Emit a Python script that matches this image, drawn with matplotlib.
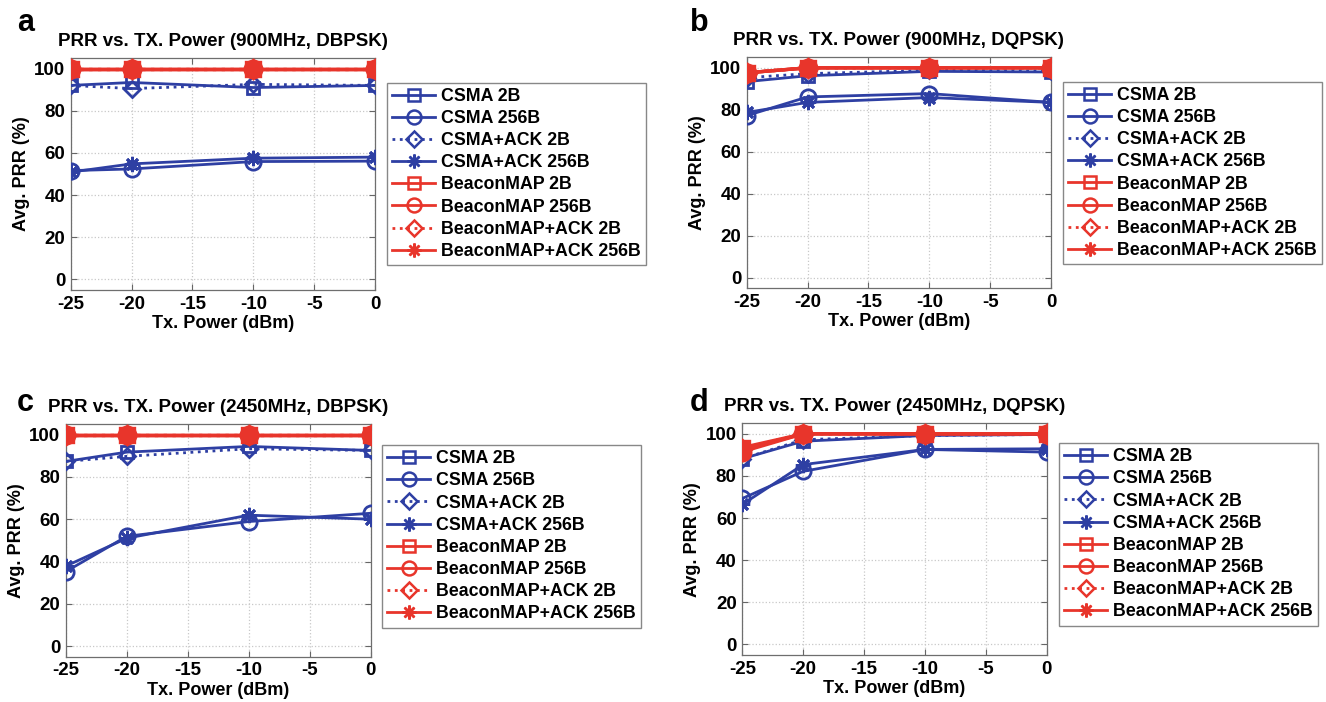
import matplotlib
matplotlib.use("Agg")
import matplotlib.pyplot as plt
from matplotlib.lines import Line2D

plt.rcParams['font.family'] = ['Liberation Sans', 'DejaVu Sans']
plt.rcParams['font.weight'] = 'bold'
plt.rcParams['axes.unicode_minus'] = False

tx_power = [-25, -20, -10, 0]

series_labels = ["CSMA 2B", "CSMA 256B", "CSMA+ACK 2B", "CSMA+ACK 256B",
                 "BeaconMAP 2B", "BeaconMAP 256B", "BeaconMAP+ACK 2B", "BeaconMAP+ACK 256B"]

panel_letters = ["a", "b", "c", "d"]
panel_titles = ["PRR vs. TX. Power (900MHz, DBPSK)",
                "PRR vs. TX. Power (900MHz, DQPSK)",
                "PRR vs. TX. Power (2450MHz, DBPSK)",
                "PRR vs. TX. Power (2450MHz, DQPSK)"]

# panel a: 900MHz DBPSK
a_csma_2b = [92, 93.4, 91, 92]
a_csma_256b = [51.6, 52.4, 55.9, 56.1]
a_csmaack_2b = [92, 90.5, 92.5, 92]
a_csmaack_256b = [50.9, 54.8, 57.5, 58]
a_bm_2b = [100, 100, 100, 100]
a_bm_256b = [100, 100, 100, 100]
a_bmack_2b = [100, 100, 100, 100]
a_bmack_256b = [100, 100, 100, 100]

# panel b: 900MHz DQPSK
b_csma_2b = [93.4, 96.2, 98.3, 98]
b_csma_256b = [77.2, 86.1, 87.7, 83.5]
b_csmaack_2b = [95.3, 97.2, 98.8, 98.5]
b_csmaack_256b = [78.7, 83.5, 85.8, 83.5]
b_bm_2b = [97.6, 100, 100, 100]
b_bm_256b = [97.6, 100, 100, 100]
b_bmack_2b = [97.6, 100, 100, 100]
b_bmack_256b = [97.6, 100, 100, 100]

# panel c: 2450MHz DBPSK
c_csma_2b = [87.3, 91.7, 94.4, 92.5]
c_csma_256b = [35.2, 51.9, 58.9, 62.8]
c_csmaack_2b = [87.3, 89.7, 93.3, 92.5]
c_csmaack_256b = [37.8, 51.0, 61.9, 60.0]
c_bm_2b = [100, 100, 100, 100]
c_bm_256b = [100, 100, 100, 100]
c_bmack_2b = [100, 100, 100, 100]
c_bmack_256b = [100, 100, 100, 100]

# panel d: 2450MHz DQPSK
d_csma_2b = [88.2, 96.5, 99.2, 99.7]
d_csma_256b = [69.3, 82.2, 92.6, 91.3]
d_csmaack_2b = [88.2, 97.2, 99.2, 99.7]
d_csmaack_256b = [66.5, 85.4, 92.6, 92.9]
d_bm_2b = [93.5, 100, 100, 100]
d_bm_256b = [91.5, 100, 100, 100]
d_bmack_2b = [93.0, 100, 100, 100]
d_bmack_256b = [92.4, 100, 100, 100]

panel_data = [
    [a_csma_2b, a_csma_256b, a_csmaack_2b, a_csmaack_256b, a_bm_2b, a_bm_256b, a_bmack_2b, a_bmack_256b],
    [b_csma_2b, b_csma_256b, b_csmaack_2b, b_csmaack_256b, b_bm_2b, b_bm_256b, b_bmack_2b, b_bmack_256b],
    [c_csma_2b, c_csma_256b, c_csmaack_2b, c_csmaack_256b, c_bm_2b, c_bm_256b, c_bmack_2b, c_bmack_256b],
    [d_csma_2b, d_csma_256b, d_csmaack_2b, d_csmaack_256b, d_bm_2b, d_bm_256b, d_bmack_2b, d_bmack_256b],
]

BLUE = '#2E3FA3'
RED = '#E8352B'
colors = [BLUE] * 4 + [RED] * 4
ASTER = (8, 2, 0)
markers = ['s', 'o', 'D', ASTER] * 2
styles = ['-', '-', ':', '-'] * 2
msizes = [9, 11, 8, 11] * 2

W, H = 1326, 702
fig = plt.figure(figsize=(W / 100, H / 100), dpi=100)

# axes boxes in pixels: left, top, right, bottom
boxes = [(70.7, 58, 375, 290), (746.7, 57.3, 1051, 288),
         (65.7, 424, 370.7, 656.7), (742.3, 423.3, 1046.7, 655)]
legend_pos = [(387, 82.5), (1063, 81.7), (382, 445), (1059, 443)]
letter_pos = [(17, 31), (690, 31), (17, 411), (690, 411)]

for i in range(4):
    l, t, r, b = boxes[i]
    ax = fig.add_axes([l / W, 1 - b / H, (r - l) / W, (b - t) / H])
    for k in range(8):
        red = k >= 4
        ax.plot(tx_power, panel_data[i][k], color=colors[k], linestyle=styles[k],
                linewidth=2.0 if not red else 2.4, marker=markers[k],
                markersize=msizes[k] if not red else msizes[k] + 1,
                markerfacecolor=colors[k] if red else 'none',
                markeredgewidth=2.0 if not red else 2.4,
                markeredgecolor=colors[k], zorder=3 if not red else 4)
    ax.set_xlim(-25, 0)
    ax.set_ylim(-5, 105)
    ax.set_xticks([-25, -20, -15, -10, -5, 0])
    ax.set_yticks([0, 20, 40, 60, 80, 100])
    ax.grid(True, color='#C8C8C8', linestyle=':', linewidth=0.9)
    ax.tick_params(direction='in', top=True, right=True, labelsize=13.5,
                   length=4, width=0.8, color='#666666', pad=4)
    for lab in ax.get_xticklabels() + ax.get_yticklabels():
        lab.set_fontweight('bold')
    for sp in ax.spines.values():
        sp.set_color('#6E6E6E')
        sp.set_linewidth(0.9)
    ax.set_xlabel('Tx. Power (dBm)', fontsize=13, fontweight='bold', labelpad=2)
    ax.set_ylabel('Avg. PRR (%)', fontsize=13, fontweight='bold', labelpad=3)
    ax.set_title(panel_titles[i], fontsize=13.5, fontweight='bold', pad=9)

    handles = [Line2D([0], [0], color=colors[k], linestyle=styles[k], linewidth=2.0,
                      marker=markers[k], markersize=(msizes[k] - 1) if k % 4 != 2 else 8,
                      markerfacecolor='none',
                      markeredgecolor=colors[k], markeredgewidth=1.8)
               for k in range(8)]
    lx, ly = legend_pos[i]
    leg = fig.legend(handles, series_labels, loc='upper left',
                     bbox_to_anchor=(lx / W, 1 - ly / H), bbox_transform=fig.transFigure,
                     borderaxespad=0, prop={'weight': 'bold', 'size': 12.8},
                     handlelength=2.4, handletextpad=0.35, labelspacing=0.29,
                     borderpad=0.3, fancybox=False, framealpha=1, edgecolor='#888888')
    leg.get_frame().set_linewidth(1.0)

    px, py = letter_pos[i]
    fig.text(px / W, 1 - py / H, panel_letters[i], fontsize=22, fontweight='bold',
             ha='left', va='baseline')

fig.savefig('out.png', dpi=100)
